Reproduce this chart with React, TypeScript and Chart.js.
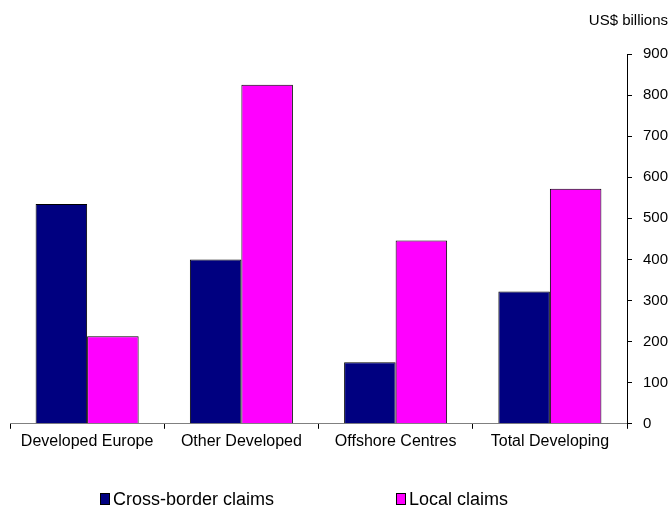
import React, { useEffect, useRef } from "react";
import { Chart, registerables } from "chart.js";

Chart.register(...registerables);

const categories = ["Developed Europe", "Other Developed", "Offshore Centres", "Total Developing"];
const crossBorder = [535, 400, 150, 322];
const localClaims = [213, 825, 446, 572];
const seriesNames = ["Cross-border claims", "Local claims"];
const seriesColors = ["#000080", "#FF00FF"];
const unitLabel = "US$ billions";

const FONT = "'Liberation Sans', Arial, sans-serif";

const customLegend = {
  id: "customLegend",
  afterDraw(chart: any, _args: any, opts: any) {
    const ctx = chart.ctx as CanvasRenderingContext2D;
    const y = opts.y as number;
    ctx.save();
    ctx.font = `${opts.fontSize}px ${FONT}`;
    ctx.textBaseline = "middle";
    ctx.textAlign = "left";
    chart.data.datasets.forEach((ds: any, i: number) => {
      const x = opts.xs[i] as number;
      const bw = opts.boxW as number;
      const bh = opts.boxH as number;
      ctx.fillStyle = ds.backgroundColor;
      ctx.fillRect(x, y - bh / 2, bw, bh);
      ctx.strokeStyle = "#000";
      ctx.lineWidth = 1;
      ctx.strokeRect(x + 0.5, y - bh / 2 + 0.5, bw - 1, bh - 1);
      ctx.fillStyle = "#000";
      ctx.fillText(ds.label, x + bw + 3, y + 1);
    });
    ctx.restore();
  },
};

export default function App() {
  const ref = useRef<HTMLCanvasElement | null>(null);
  useEffect(() => {
    document.body.style.margin = "0";
    const ctx = ref.current!.getContext("2d")!;
    const chart = new Chart(ctx, {
      type: "bar",
      data: {
        labels: categories,
        datasets: [
          {
            label: seriesNames[0],
            data: crossBorder,
            backgroundColor: seriesColors[0],
            borderColor: "#000000",
            borderWidth: 1,
            borderSkipped: "bottom",
            barPercentage: 1.0,
            categoryPercentage: 0.668,
          },
          {
            label: seriesNames[1],
            data: localClaims,
            backgroundColor: seriesColors[1],
            borderColor: "#000000",
            borderWidth: 1,
            borderSkipped: "bottom",
            barPercentage: 1.0,
            categoryPercentage: 0.668,
          },
        ],
      },
      plugins: [customLegend],
      options: {
        animation: false,
        responsive: true,
        maintainAspectRatio: false,
        layout: { padding: { left: 10, right: 2, top: 0, bottom: 52 } },
        plugins: {
          title: {
            display: true,
            text: unitLabel,
            align: "end",
            color: "#000",
            font: { family: FONT, size: 15, weight: "normal" },
            padding: { top: 12, bottom: 24 },
          },
          legend: { display: false },
          tooltip: { enabled: false },
          customLegend: {
            xs: [100, 396],
            y: 499,
            boxW: 10,
            boxH: 12,
            fontSize: 18,
          },
        } as any,
        scales: {
          x: {
            grid: {
              display: true,
              drawOnChartArea: false,
              drawTicks: true,
              tickLength: 5,
              color: "#000",
              offset: true,
            },
            border: { display: true, color: "#808080", width: 1 },
            ticks: {
              color: "#000",
              font: { family: FONT, size: 16 },
              padding: 3,
              maxRotation: 0,
            },
          },
          y: {
            position: "right",
            min: 0,
            max: 900,
            afterFit(scale: any) {
              scale.width = 41;
            },
            grid: {
              display: true,
              drawOnChartArea: false,
              drawTicks: true,
              tickLength: 5,
              color: "#000",
            },
            border: { display: true, color: "#000", width: 1 },
            ticks: {
              stepSize: 100,
              color: "#000",
              font: { family: FONT, size: 15 },
              padding: 11,
            },
          },
        },
      },
    });
    return () => chart.destroy();
  }, []);
  return (
    <div style={{ position: "relative", width: 670, height: 506 }}>
      <canvas ref={ref} />
    </div>
  );
}
